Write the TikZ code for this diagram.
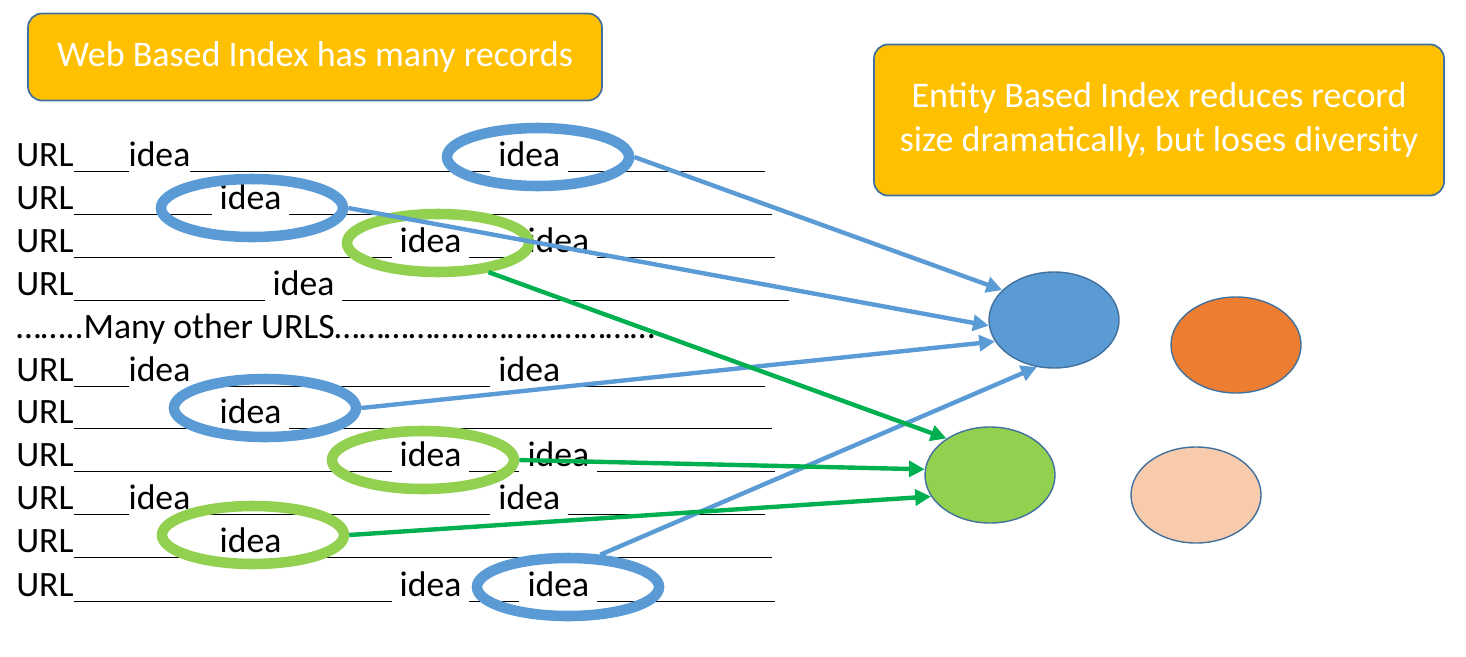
\documentclass[tikz,border=0pt]{standalone}
\usepackage{fontspec}
\setmainfont{Carlito}
\usetikzlibrary{shapes.geometric,arrows.meta,positioning}
\definecolor{boxorange}{HTML}{FFC000}
\definecolor{boxedge}{HTML}{41719C}
\definecolor{ringblue}{HTML}{5B9BD5}
\definecolor{ringgreen}{HTML}{92D050}
\definecolor{arrowgreen}{HTML}{00B050}
\definecolor{blobred}{HTML}{ED7D31}
\definecolor{blobpeach}{HTML}{F8CBAD}
\newcommand{\ul}[1]{\rule[-3pt]{\dimexpr 0.02cm*#1\relax}{0.8pt}}
\tikzset{
  title/.style={rectangle, rounded corners=8pt, draw=boxedge, line width=1pt,
    fill=boxorange, text=white, align=center, font=\fontsize{20.5}{25}\selectfont},
  record/.style={anchor=west, inner sep=0pt, font=\fontsize{20.3}{22}\selectfont},
  ring/.style={ellipse, draw=#1, line width=6pt, minimum width=182*0.02cm, minimum height=58*0.02cm, inner sep=0pt},
  blob/.style={ellipse, draw=boxedge, fill=#1, line width=0.8pt, inner sep=0pt,
    minimum width=130*0.02cm, minimum height=96*0.02cm},
  link/.style={line width=2.5pt, -{Triangle[length=9pt,width=9pt]}, draw=#1}
}
\begin{document}
\begin{tikzpicture}[x=0.02cm,y=-0.02cm]
\useasboundingbox (0,0) rectangle (1466,656);

\node (web) [title, minimum width=574*0.02cm, minimum height=87*0.02cm] at (315,57) {Web Based Index has many records};
\node (entity) [title, minimum width=570*0.02cm, minimum height=151*0.02cm] at (1159,120) {Entity Based Index reduces record\\size dramatically, but loses diversity};

% records
\node (r1) [record] at (16,157) {URL\ul{55}idea\ul{300} idea \ul{197}};
\node (r2) [record] at (16,200) {URL\ul{138} idea \ul{483}};
\node (r3) [record] at (16,243) {URL\ul{318} idea \ul{50} idea \ul{178}};
\node (r4) [record] at (16,286) {URL\ul{191} idea \ul{447}};
\node (r5) [record] at (16,329) {……..Many other URLS…………………………………};
\node (r6) [record] at (16,372) {URL\ul{55}idea\ul{300} idea \ul{197}};
\node (r7) [record] at (16,414) {URL\ul{138} idea \ul{483}};
\node (r8) [record] at (16,457) {URL\ul{318} idea \ul{50} idea \ul{178}};
\node (r9) [record] at (16,500) {URL\ul{55}idea\ul{300} idea \ul{197}};
\node (r10) [record] at (16,543) {URL\ul{138} idea \ul{483}};
\node (r11) [record] at (16,587) {URL\ul{318} idea \ul{50} idea \ul{178}};

% rings
\node (e1) [ring=ringblue] at (538,157) {};
\node (e2) [ring=ringblue] at (252,208) {};
\node (e3) [ring=ringgreen] at (438,243) {};
\node (e4) [ring=ringblue] at (265,408) {};
\node (e5) [ring=ringgreen] at (423,460) {};
\node (e6) [ring=ringgreen] at (253,535) {};
\node (e7) [ring=ringblue] at (568,587) {};

% entities
\node (blue) [blob=ringblue] at (1054,320) {};
\node (red) [blob=blobred] at (1236,345) {};
\node (green) [blob=ringgreen] at (990,475) {};
\node (peach) [blob=blobpeach] at (1196,495) {};

\draw [link=ringblue] (e1.east) -- (blue.150);
\draw [link=ringblue] (e2.east) -- (blue.185);
\draw [link=ringblue] (e4.east) -- (blue.200);
\draw [link=ringblue] (e7.45) -- (blue.250);
\draw [link=arrowgreen] (e3.-30) -- (green.140);
\draw [link=arrowgreen] (e5.east) -- (green.175);
\draw [link=arrowgreen] (e6.east) -- (green.200);
\end{tikzpicture}
\end{document}
